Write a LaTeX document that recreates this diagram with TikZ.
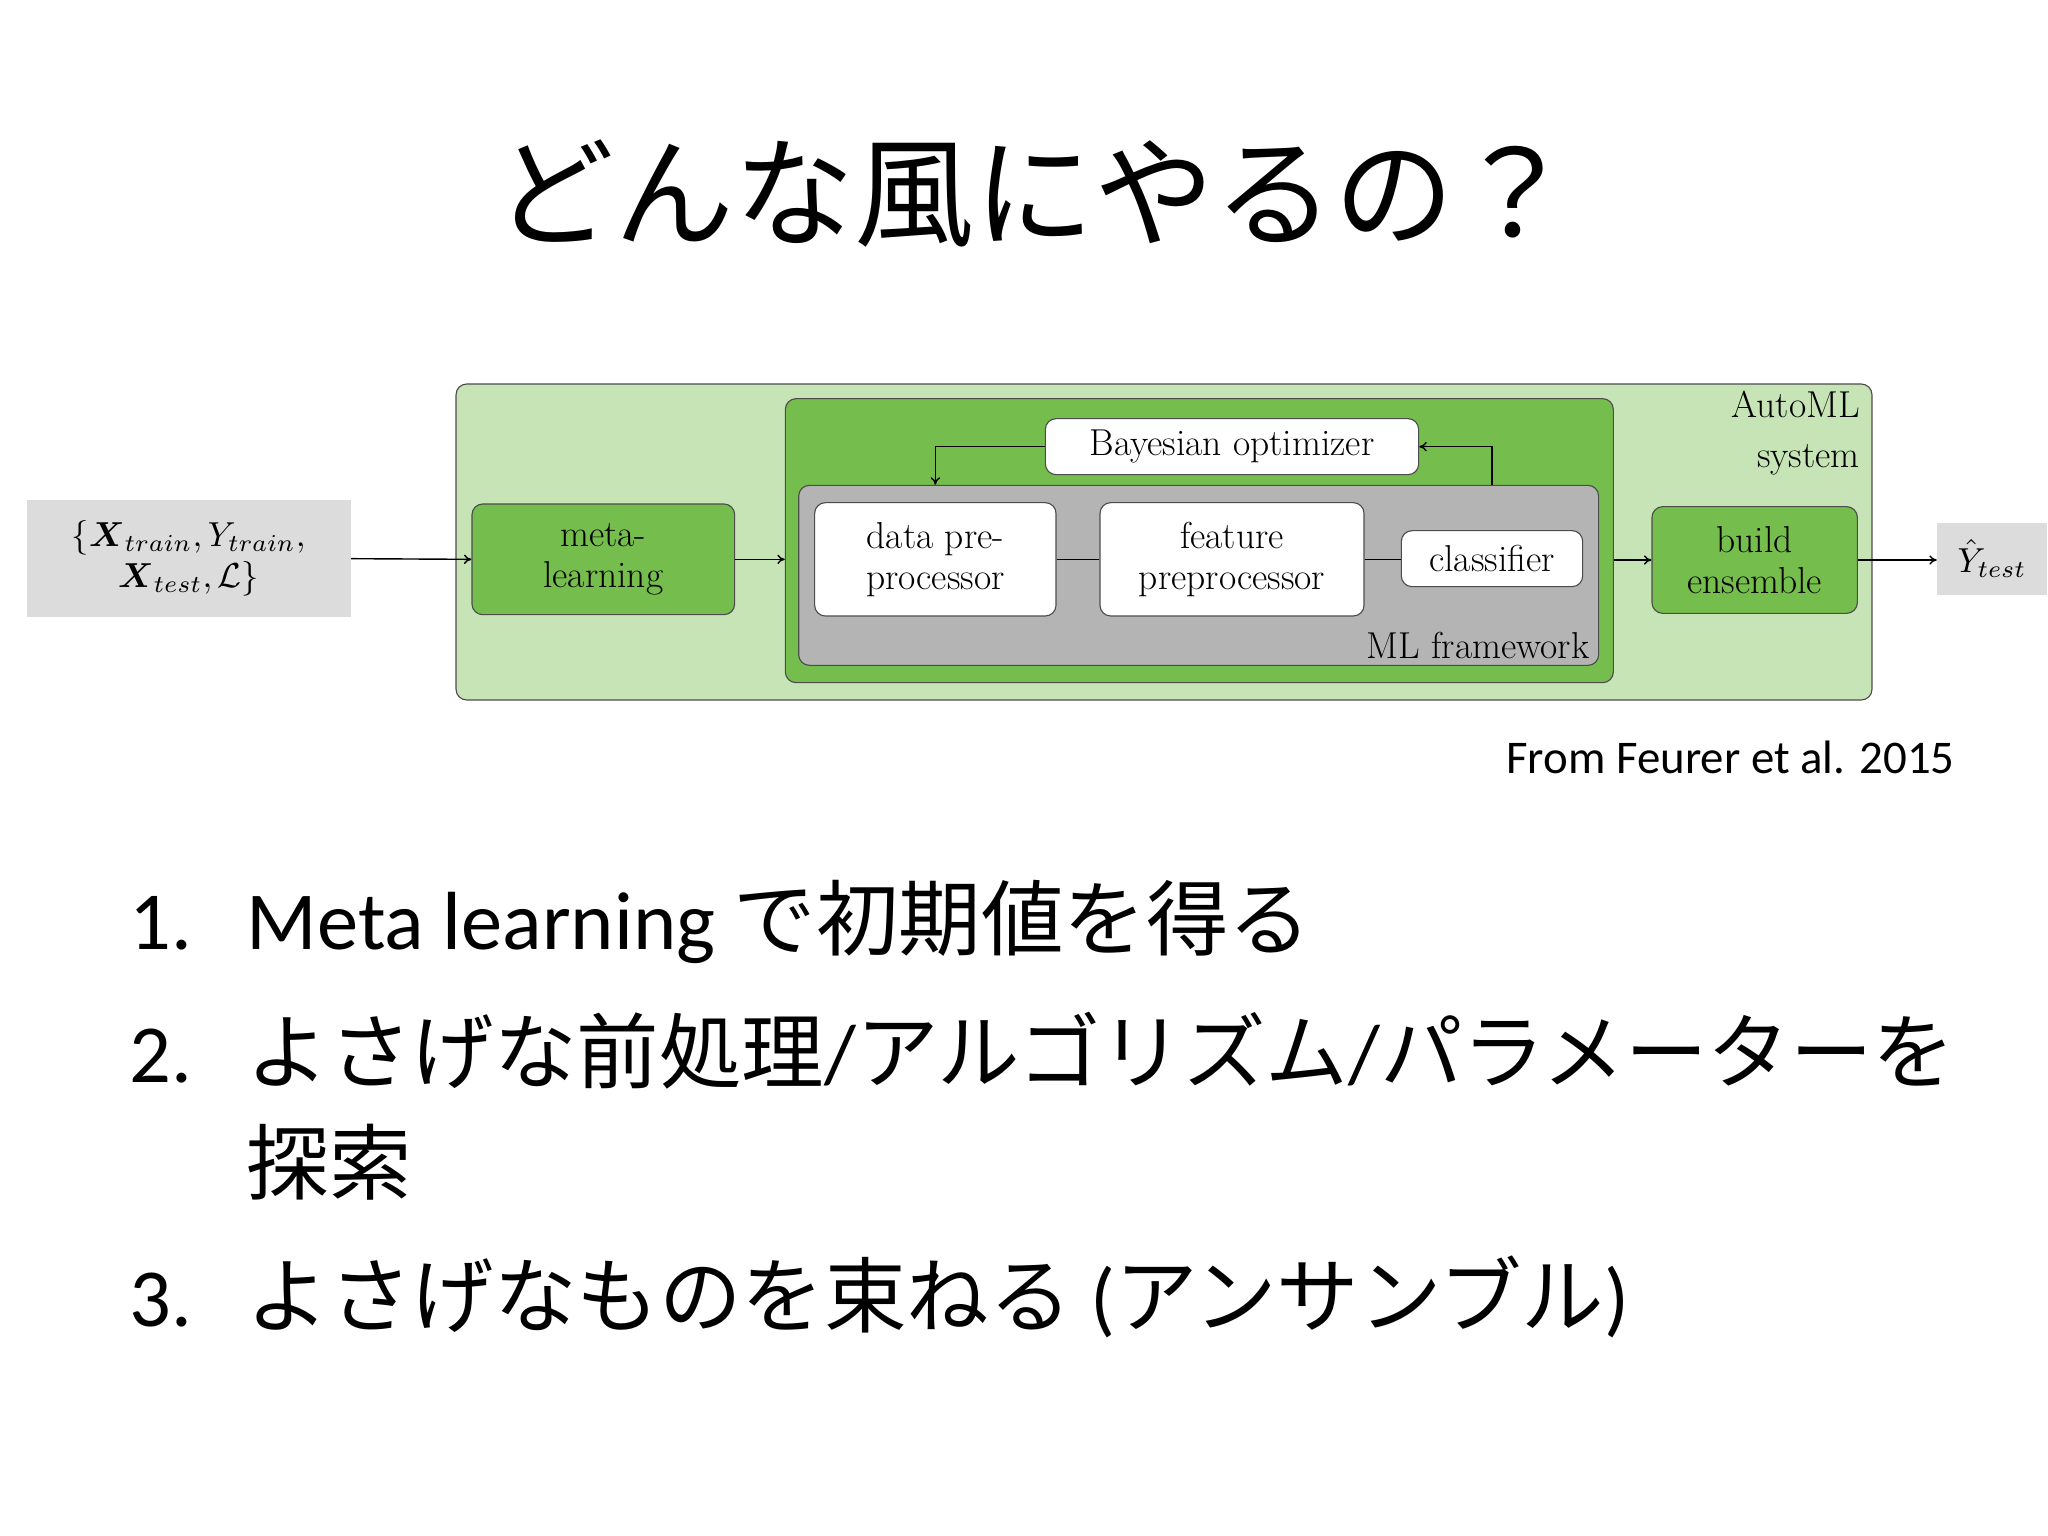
\documentclass[tikz,border=0pt]{standalone}
\usepackage{amsmath,amssymb}
\usepackage{fontspec}
\newfontfamily\cjk{Noto Sans CJK JP}
\newfontfamily\calib{Carlito}
\usetikzlibrary{arrows.meta}
\definecolor{lg}{HTML}{C6E4B5}
\definecolor{mg}{HTML}{75BE4D}
\definecolor{gr}{HTML}{B4B4B4}
\definecolor{ig}{HTML}{DCDCDC}
\begin{document}
\begin{tikzpicture}[x=0.05cm,y=-0.05cm,
  box/.style={draw=black!70,line width=1.2pt,rounded corners=0.4cm,align=center,inner sep=0pt,font=\fontsize{40}{44}\selectfont},
  arr/.style={-{To[length=8pt,width=10pt]},line width=1.5pt},
  ln/.style={line width=1.5pt},
  lst/.style={anchor=base west,inner sep=0pt,font=\fontsize{88}{100}\selectfont}]
\useasboundingbox (0,0) rectangle (1536,1152);
\fill[white] (0,0) rectangle (1536,1152);
\node[inner sep=0pt,font=\cjk\fontsize{128}{140}\selectfont] (title) at (776,145) {どんな風にやるの？};
\node[box,fill=lg,minimum width=53.1cm,minimum height=11.85cm] (auto) at (873,406.5) {};
\node[box,fill=mg,minimum width=31.05cm,minimum height=10.65cm] (mid) at (899.5,405.5) {};
\node[box,fill=gr,minimum width=30cm,minimum height=6.75cm] (mlf) at (899,431.5) {};
\node[box,fill=white,minimum width=14cm,minimum height=2.1cm] (bayes) at (924,335) {Bayesian optimizer};
\node[box,fill=white,minimum width=9.05cm,minimum height=4.25cm] (dpp) at (701.5,419.5) {data pre-\\processor};
\node[box,fill=white,minimum width=9.9cm,minimum height=4.25cm] (fp) at (924,419.5) {feature\\preprocessor};
\node[box,fill=white,minimum width=6.8cm,minimum height=2.1cm] (cls) at (1119,419) {classifier};
\node[box,fill=mg,minimum width=9.85cm,minimum height=4.15cm] (meta) at (452.5,419.5) {meta-\\learning};
\node[box,fill=mg,minimum width=7.7cm,minimum height=4cm] (build) at (1316,420) {build\\ensemble};
\node[box,draw=none,rounded corners=0,fill=ig,minimum width=12.15cm,minimum height=4.4cm,font=\fontsize{10}{12}\selectfont] (in) at (141.5,419) {\scalebox{3.7}{\begin{tabular}{@{}c@{}}$\{\boldsymbol{X}_{train},Y_{train},$\\$\boldsymbol{X}_{test},\mathcal{L}\}$\end{tabular}}};
\node[box,draw=none,rounded corners=0,fill=ig,minimum width=4.1cm,minimum height=2.7cm,font=\fontsize{10}{12}\selectfont] (yt) at (1494,419) {\scalebox{3.7}{$\hat{Y}_{test}$}};
\node[anchor=north east,align=right,inner sep=0pt,font=\fontsize{40}{54}\selectfont] (autol) at (1395,293) {AutoML\\system};
\node[anchor=south east,inner sep=0pt,font=\fontsize{40}{44}\selectfont] (mll) at (1192,494) {ML framework};
\draw[arr] (in.east) -- (meta.west);
\draw[arr] (meta.east) -- (meta.east -| mid.west);
\draw[arr] (build.west -| mid.east) -- (build.west);
\draw[arr] (build.east) -- (build.east -| yt.west);
\draw[ln] (dpp.east) -- (dpp.east -| fp.west);
\draw[ln] (fp.east) -- (fp.east -| cls.west);
\draw[arr] (mlf.north -| cls.north) |- (bayes.east);
\draw[arr] (bayes.west) -| (mlf.north -| dpp.north);
\node[anchor=base east,inner sep=0pt,font=\calib\fontsize{50}{60}\selectfont] (src) at (1466,580) {From Feurer et al. 2015};
\node[lst,font=\calib\fontsize{88}{100}\selectfont] (n1) at (97,712) {1.};
\node[lst,font=\calib\fontsize{88}{100}\selectfont] (t1) at (185,712) {Meta learning {\cjk で初期値を得る}};
\node[lst,font=\calib\fontsize{88}{100}\selectfont] (n2) at (97,812) {2.};
\node[lst,font=\cjk\fontsize{88}{100}\selectfont] (t2) at (185,812) {よさげな前処理{\calib/}アルゴリズム{\calib/}パラメーターを};
\node[lst,font=\cjk\fontsize{88}{100}\selectfont] (t2b) at (185,895) {探索};
\node[lst,font=\calib\fontsize{88}{100}\selectfont] (n3) at (97,995) {3.};
\node[lst,font=\calib\fontsize{88}{100}\selectfont] (t3) at (185,995) {{\cjk よさげなものを束ねる} ({\cjk アンサンブル})};
\end{tikzpicture}
\end{document}
